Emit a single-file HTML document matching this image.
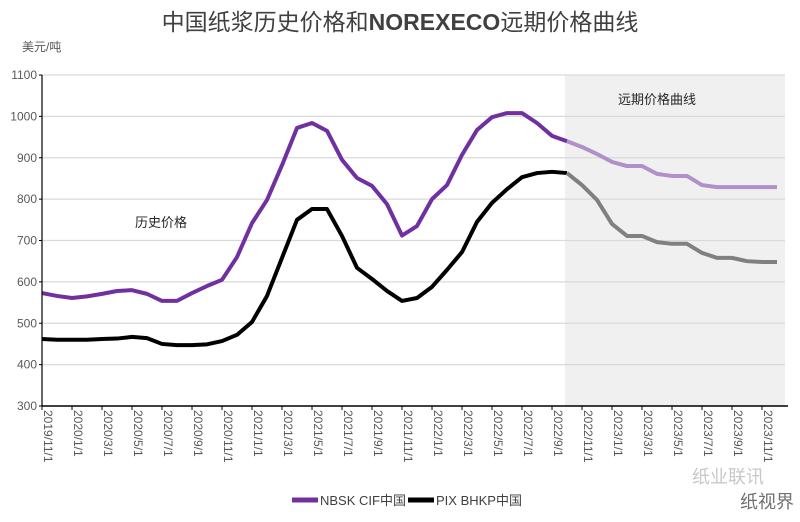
<!DOCTYPE html>
<html><head><meta charset="utf-8"><style>
html,body{margin:0;padding:0;background:#fff;}
svg{display:block;font-family:"Liberation Sans","Noto Sans CJK SC",sans-serif;}
</style></head><body>
<svg id="chart" width="800" height="522" viewBox="0 0 800 522">
<text x="400" y="30" text-anchor="middle" font-size="23" fill="#404040" font-family="'Liberation Sans','Noto Sans CJK SC',sans-serif">中国纸浆历史价格和<tspan font-weight="bold">NOREXECO</tspan>远期价格曲线</text>
<text x="22" y="51" font-size="12" fill="#595959">美元/吨</text>
<rect x="565" y="75" width="220" height="331" fill="#f0f0f0"/>
<g id="grid"></g>
<g id="series"></g>
<g id="axes"></g>
<text x="135" y="227" font-size="13" fill="#262626">历史价格</text>
<text x="618" y="104" font-size="13" fill="#262626">远期价格曲线</text>
<g>
<line x1="292" y1="500" x2="318" y2="500" stroke="#7030a0" stroke-width="5"/>
<text x="320" y="505" font-size="13" fill="#404040">NBSK CIF中国</text>
<line x1="408" y1="500" x2="434" y2="500" stroke="#000" stroke-width="5"/>
<text x="436" y="505" font-size="13" fill="#404040">PIX BHKP中国</text>
</g>
<text x="692" y="483" font-size="18" fill="#c8c8c8">纸业联讯</text>
<text x="740" y="508" font-size="18" fill="#707070">纸视界</text>
</svg>
<script>
const categories = [];
(function(){let y=2019,m=11;for(let i=0;i<50;i++){categories.push(y+'/'+m+'/1');m++;if(m>12){m=1;y++;}}})();
const tickLabels = ["2019/11/1","2020/1/1","2020/3/1","2020/5/1","2020/7/1","2020/9/1","2020/11/1","2021/1/1","2021/3/1","2021/5/1","2021/7/1","2021/9/1","2021/11/1","2022/1/1","2022/3/1","2022/5/1","2022/7/1","2022/9/1","2022/11/1","2023/1/1","2023/3/1","2023/5/1","2023/7/1","2023/9/1","2023/11/1"];
const yTicks = [300,400,500,600,700,800,900,1000,1100];
const historyEnd = 35;
const nbsk = [573,566,561,565,571,578,580,571,554,554,573,590,605,660,742,798,882,972,984,965,895,851,832,788,712,735,800,834,907,967,998,1008,1008,984,953,940,926,909,890,880,880,861,856,856,834,829,829,829,829,829];
const pix = [462,460,460,460,462,463,467,464,450,447,447,449,457,472,503,566,658,750,776,776,711,634,607,578,554,561,588,629,672,745,791,824,853,863,866,863,834,798,740,711,711,696,692,692,670,658,658,650,648,648];

const NS="http://www.w3.org/2000/svg";
const X0=42, DX=15, Y0=406, Y1=75, VMIN=300, VMAX=1100;
function xScale(i){return X0+DX*i;}
function yScale(v){return Y0-(v-VMIN)/(VMAX-VMIN)*(Y0-Y1);}
function mk(tag,attrs,parent){const e=document.createElementNS(NS,tag);for(const k in attrs)e.setAttribute(k,attrs[k]);parent.appendChild(e);return e;}
const grid=document.getElementById('grid'), axes=document.getElementById('axes'), series=document.getElementById('series');
yTicks.forEach(v=>{
  if(v>VMIN){const l=mk('line',{x1:X0,x2:785,y1:yScale(v),y2:yScale(v),stroke:'#d9d9d9','stroke-width':1.2},grid);
  
  }
  const t=mk('text',{x:X0-5,y:yScale(v)+4,'text-anchor':'end','font-size':12,fill:'#595959'},axes);
  t.textContent=v;
  
  
  const tk=mk('line',{x1:X0-3,x2:X0,y1:yScale(v),y2:yScale(v),stroke:'#000'},axes);
  
  
});
const ya=mk('line',{x1:X0,x2:X0,y1:Y1,y2:Y0,stroke:'#000','stroke-width':1.2},axes);


const xa=mk('line',{x1:X0,x2:788,y1:Y0,y2:Y0,stroke:'#000','stroke-width':1.5},axes);


tickLabels.forEach((lab,k)=>{
  const x=xScale(2*k);
  const tk=mk('line',{x1:x,x2:x,y1:Y0,y2:Y0+4,stroke:'#000'},axes);
  
  
  const t=mk('text',{x:0,y:0,'font-size':12,fill:'#595959',transform:'translate('+(x+2)+','+(Y0+4)+') rotate(90)'},axes);
  t.textContent=lab;
  
  
});
function pts(arr,a,b){let s=[];for(let i=a;i<=b;i++)s.push(xScale(i)+','+yScale(arr[i]));return s.join(' ');}
const last=nbsk.length-1;
const defs=[[nbsk,'#7030a0','#b18fc8','nbsk'],[pix,'#000000','#808080','pix']];
defs.forEach(d=>{
  const h=mk('polyline',{points:pts(d[0],0,historyEnd),fill:'none',stroke:d[1],'stroke-width':4,'stroke-linejoin':'round'},series);
  
  
  const f=mk('polyline',{points:pts(d[0],historyEnd,last),fill:'none',stroke:d[2],'stroke-width':4,'stroke-linejoin':'round'},series);
  
  
});
</script>
</body></html>
